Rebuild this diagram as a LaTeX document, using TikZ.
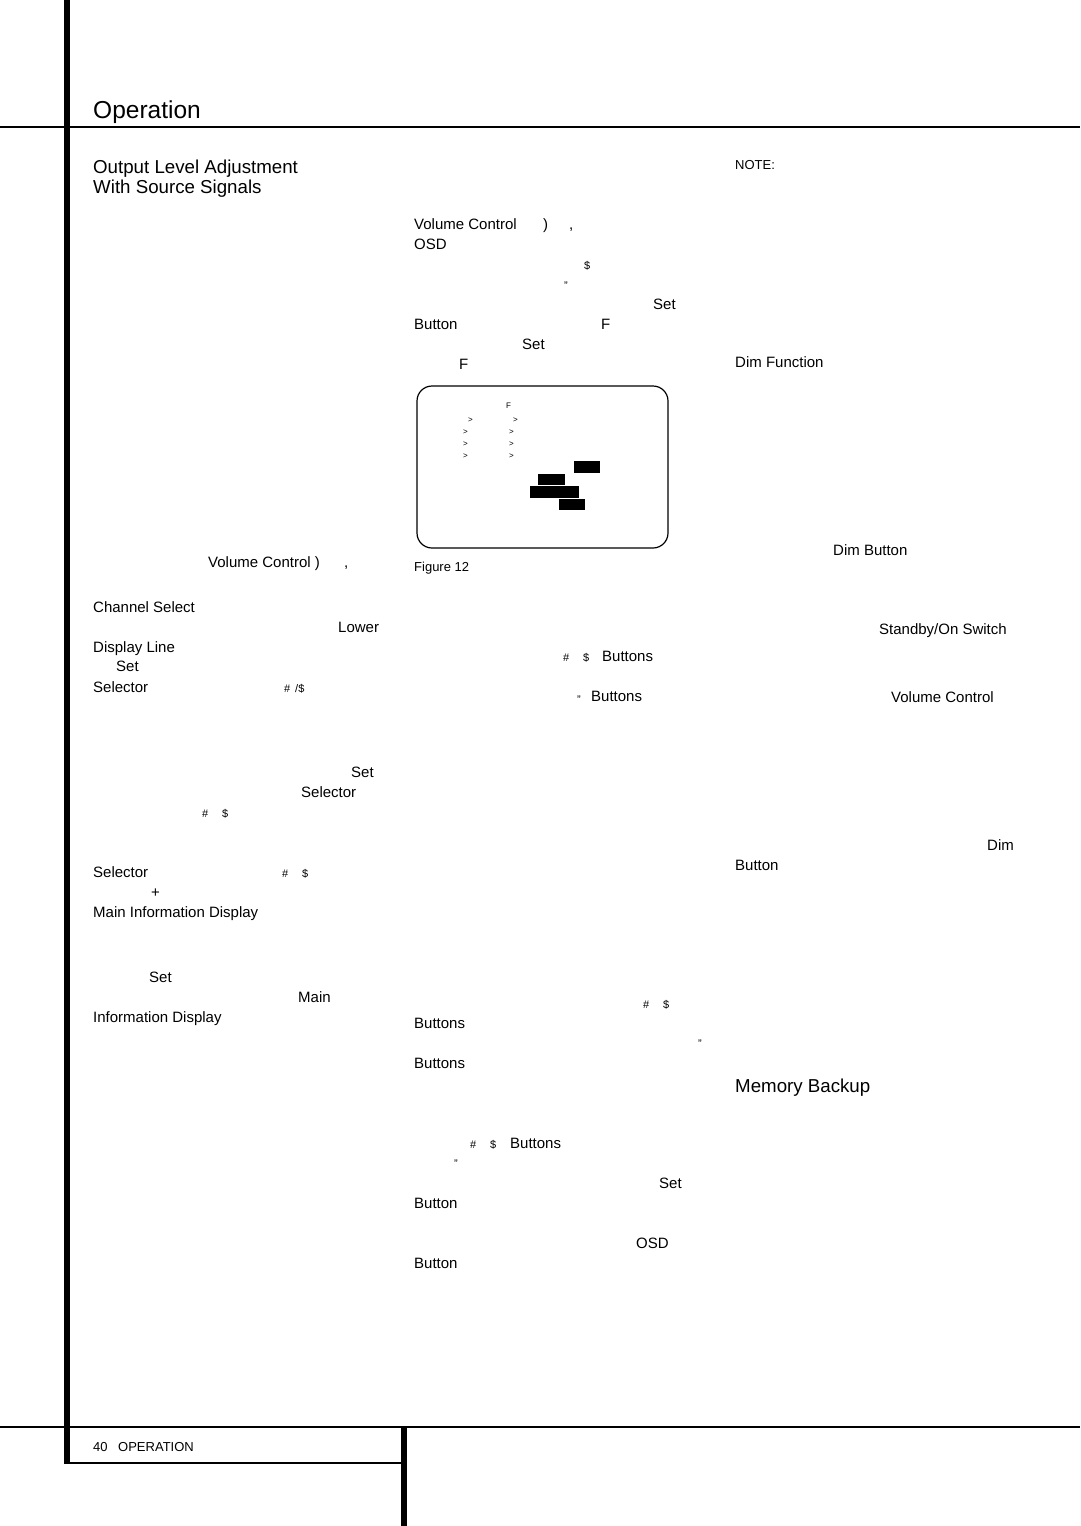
\documentclass[tikz,border=0pt]{standalone}
\usepackage{fontspec}
\setmainfont{Liberation Sans}

\tikzset{
    txt/.style={anchor=base west, inner sep=0pt, font=\fontsize{15}{18}\selectfont},
    sym/.style={anchor=base west, inner sep=0pt, font=\fontsize{11}{13}\selectfont},
    tiny/.style={anchor=base west, inner sep=0pt, font=\fontsize{8}{10}\selectfont},
    small/.style={anchor=base west, inner sep=0pt, font=\fontsize{13}{16}\selectfont},
    head/.style={anchor=base west, inner sep=0pt, font=\fontsize{24.5}{28}\selectfont},
    subhead/.style={anchor=base west, inner sep=0pt, font=\fontsize{18.7}{22}\selectfont},
    blk/.style={fill=black}
}

\begin{document}
\begin{tikzpicture}[x=1pt, y=-1pt]
    \useasboundingbox (0,0) rectangle (1080,1526);

    % page rules
    \draw[line width=6] (67,0) -- (67,1464);
    \draw[line width=2] (0,127) -- (1080,127);
    \draw[line width=1.5] (0,1427) -- (1080,1427);
    \draw[line width=2.5] (64,1463) -- (404,1463);
    \draw[line width=6] (404,1427) -- (404,1526);

    % headings
    \node[head]    (title) at (93,118) {Operation};
    \node[subhead] (secA)  at (93,173) {Output Level Adjustment};
    \node[subhead] (secB)  at (93,193) {With Source Signals};
    \node[subhead] (mem)   at (735,1092) {Memory Backup};

    % left column
    \node[txt] (volA)   at (208,567) {Volume Control )};
    \node[txt] (volAc)  at (344,567) {,};
    \node[txt] (chsel)  at (93,612) {Channel Select};
    \node[txt] (lower)  at (338,632) {Lower};
    \node[txt] (dline)  at (93,652) {Display Line};
    \node[txt] (setA)   at (116,671) {Set};
    \node[txt] (selA)   at (93,692) {Selector};
    \node[sym] (upA)    at (284,692) {\#};
    \node[sym] (dnA)    at (295,692) {/\$};
    \node[txt] (setB)   at (351,777) {Set};
    \node[txt] (selB)   at (301,797) {Selector};
    \node[sym] (upB)    at (202,817) {\#};
    \node[sym] (dnB)    at (222,817) {\$};
    \node[txt] (selC)   at (93,877) {Selector};
    \node[sym] (upC)    at (282,877) {\#};
    \node[sym] (dnC)    at (302,877) {\$};
    \node[txt] (plus)   at (151,897) {+};
    \node[txt] (midA)   at (93,917) {Main Information Display};
    \node[txt] (setC)   at (149,982) {Set};
    \node[txt] (mainB)  at (298,1002) {Main};
    \node[txt] (midB)   at (93,1022) {Information Display};

    % middle column
    \node[txt] (volB)   at (414,229) {Volume Control};
    \node[txt] (volBp)  at (543,229) {)};
    \node[txt] (volBc)  at (569,229) {,};
    \node[txt] (osdA)   at (414,249) {OSD};
    \node[sym] (dnD)    at (584,269) {\$};
    \node[sym] (qA)     at (564,289) {"};
    \node[txt] (setD)   at (653,309) {Set};
    \node[txt] (btnA)   at (414,329) {Button};
    \node[txt] (fA)     at (601,329) {F};
    \node[txt] (setE)   at (522,349) {Set};
    \node[txt] (fB)     at (459,369) {F};

    % on-screen menu, figure 12
    \draw[line width=1.2, rounded corners=15] (417,386) rectangle (668,548);
    \node[tiny] (fC)  at (506,408) {F};
    \node[tiny] (mA1) at (468,422) {>};
    \node[tiny] (mA2) at (513,422) {>};
    \node[tiny] (mB1) at (463,434) {>};
    \node[tiny] (mB2) at (509,434) {>};
    \node[tiny] (mC1) at (463,446) {>};
    \node[tiny] (mC2) at (509,446) {>};
    \node[tiny] (mD1) at (463,458) {>};
    \node[tiny] (mD2) at (509,458) {>};
    \fill[blk] (574,461) rectangle (600,473);
    \fill[blk] (538,474) rectangle (565,485);
    \fill[blk] (530,486) rectangle (579,498);
    \fill[blk] (559,499) rectangle (585,510);
    \node[small] (fig) at (414,571) {Figure 12};

    \node[sym] (upE)    at (563,661) {\#};
    \node[sym] (dnE)    at (583,661) {\$};
    \node[txt] (btnsA)  at (602,661) {Buttons};
    \node[sym] (qB)     at (577,703) {"};
    \node[txt] (btnsB)  at (591,701) {Buttons};
    \node[sym] (upF)    at (643,1008) {\#};
    \node[sym] (dnF)    at (663,1008) {\$};
    \node[txt] (btnsC)  at (414,1028) {Buttons};
    \node[sym] (qC)     at (698,1047) {"};
    \node[txt] (btnsD)  at (414,1068) {Buttons};
    \node[sym] (upG)    at (470,1148) {\#};
    \node[sym] (dnG)    at (490,1148) {\$};
    \node[txt] (btnsE)  at (510,1148) {Buttons};
    \node[sym] (qD)     at (454,1167) {"};
    \node[txt] (setF)   at (659,1188) {Set};
    \node[txt] (btnB)   at (414,1208) {Button};
    \node[txt] (osdB)   at (636,1248) {OSD};
    \node[txt] (btnC)   at (414,1268) {Button};

    % right column
    \node[small] (note) at (735,169) {NOTE:};
    \node[txt] (dimf)   at (735,367) {Dim Function};
    \node[txt] (dimb)   at (833,555) {Dim Button};
    \node[txt] (stby)   at (879,634) {Standby/On Switch};
    \node[txt] (volC)   at (891,702) {Volume Control};
    \node[txt] (dimA)   at (987,850) {Dim};
    \node[txt] (btnD)   at (735,870) {Button};

    % footer
    \node[small] (pg)   at (93,1451) {40};
    \node[small] (oper) at (118,1451) {OPERATION};
\end{tikzpicture}
\end{document}
